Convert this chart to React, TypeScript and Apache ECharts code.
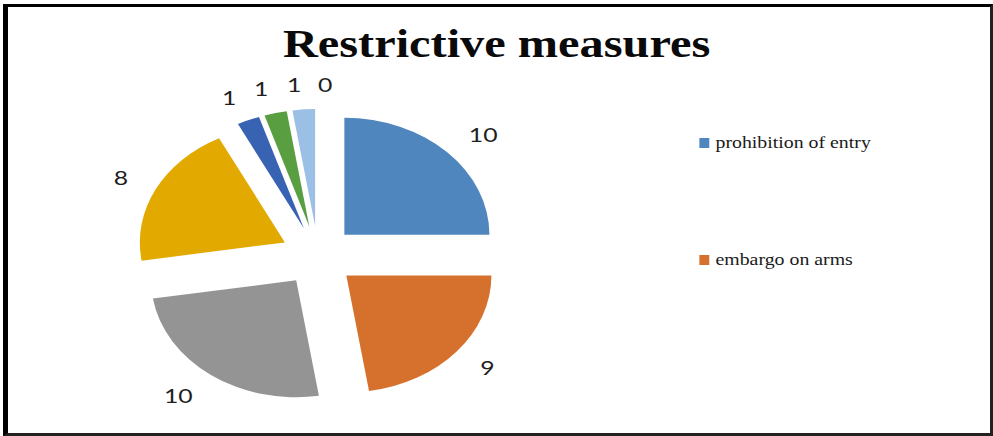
import React, { useEffect, useRef } from "react";
import * as echarts from "echarts";

const title = "Restrictive measures";
const categories = [
  "prohibition of entry",
  "embargo on arms",
  "Category 3",
  "Category 4",
  "Category 5",
  "Category 6",
  "Category 7",
  "Category 8",
];
const values = [10, 9, 10, 8, 1, 1, 1, 0];
const colors = ["#4f86bd", "#d5712c", "#949494", "#e2aa00", "#3763b2", "#5a9e42", "#9cbfe6", "#a9c8e8"];
const legendShown = categories.slice(0, 2);

const STRETCH = 1.24;
const CHART_W = Math.round(993 / STRETCH);
const CHART_H = 436;
const SERIF = "'Liberation Serif', 'Times New Roman', serif";

export default function App() {
  const ref = useRef<HTMLDivElement>(null);

  useEffect(() => {
    if (!ref.current) return;
    const chart = echarts.init(ref.current, undefined, { renderer: "svg" });
    const legendText = {
      fontFamily: SERIF,
      fontSize: 16,
      lineHeight: 16,
      color: "#1a1a1a",
    };
    chart.setOption({
      animation: false,
      backgroundColor: "transparent",
      title: {
        text: title,
        left: "center",
        top: 25,
        padding: 0,
        textStyle: {
          fontFamily: SERIF,
          fontWeight: "bold",
          fontSize: 39,
          color: "#0a0a0a",
        },
      },
      legend: {
        data: legendShown.map((name) => ({ name, textStyle: legendText })),
        orient: "vertical",
        left: 564,
        top: 135,
        padding: 0,
        itemWidth: 8,
        itemHeight: 10,
        itemGap: 101,
        icon: "rect",
        selectedMode: false,
        textStyle: legendText,
      },
      series: [
        {
          type: "pie",
          center: [256.5, 256],
          radius: 117,
          startAngle: 90,
          clockwise: true,
          selectedMode: "multiple",
          selectedOffset: 30,
          avoidLabelOverlap: false,
          emphasis: { disabled: true },
          itemStyle: { borderWidth: 0 },
          label: {
            show: true,
            position: "outside",
            formatter: "{c}",
            fontFamily: "Lato",
            fontSize: 20,
            color: "#1e1e1e",
            distanceToLabelLine: 0,
          },
          labelLine: { show: false, length: 25, length2: 0 },
          data: categories.map((name, i) => ({
            name,
            value: values[i],
            selected: true,
            itemStyle: { color: colors[i] },
          })),
        },
      ],
    });
    return () => chart.dispose();
  }, []);

  return (
    <div
      style={{
        position: "fixed",
        left: 0,
        top: 0,
        width: 993,
        height: 436,
        overflow: "hidden",
        background: "#fff",
      }}
    >
      <div
        style={{
          position: "absolute",
          left: 0,
          top: 0,
          width: CHART_W,
          height: CHART_H,
          transform: `scaleX(${STRETCH})`,
          transformOrigin: "0 0",
        }}
      >
        <div ref={ref} style={{ width: CHART_W, height: CHART_H }} />
      </div>
      <div
        style={{
          position: "absolute",
          left: 3,
          top: 4,
          width: 990,
          height: 432,
          boxSizing: "border-box",
          borderLeft: "5px solid #000",
          borderTop: "3px solid #000",
          borderRight: "3px solid #222",
          borderBottom: "3px solid #222",
          pointerEvents: "none",
        }}
      />
    </div>
  );
}
